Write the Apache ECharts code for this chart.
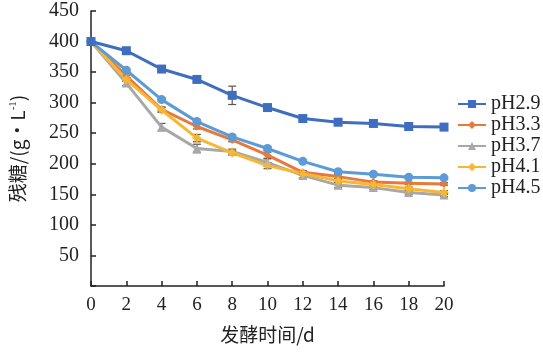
<!DOCTYPE html>
<html><head><meta charset="utf-8">
<script src="https://cdn.jsdelivr.net/npm/echarts@6/dist/echarts.min.js"></script>
<style>html,body{margin:0;padding:0;background:#fff}#c{width:543px;height:355px}</style>
</head><body><div id="c"></div>
<script>
const days = [0, 2, 4, 6, 8, 10, 12, 14, 16, 18, 20];
const seriesNames = ['pH2.9', 'pH3.3', 'pH3.7', 'pH4.1', 'pH4.5'];
const pH29 = [400, 385, 355, 338, 312, 292, 274, 268, 266, 261, 260];
const pH33 = [400, 344, 289, 261, 239, 214, 186, 179, 170, 168, 167];
const pH37 = [400, 332, 260, 225, 220, 202, 181, 165, 161, 153, 149];
const pH41 = [400, 338, 288, 242, 218, 197, 184, 172, 166, 159, 153];
const pH45 = [400, 353, 305, 269, 244, 225, 204, 187, 183, 178, 177];
const err29 = [0, 3, 4, 3, 15, 3, 2, 2, 2, 2, 2];
const err33 = [0, 3, 4, 4, 3, 5, 3, 3, 2, 2, 2];
const err37 = [0, 4, 6, 7, 4, 6, 4, 4, 3, 3, 3];
const err41 = [0, 3, 4, 6, 4, 5, 3, 3, 3, 3, 3];
const err45 = [0, 2, 3, 3, 3, 3, 2, 2, 2, 2, 2];
const yTicks = [0, 450, 50];
const xTicks = [0, 20, 2];

const values = [pH29, pH33, pH37, pH41, pH45];
const errs = [err29, err33, err37, err41, err45];
const colors = ['#3F6DC0', '#E8793A', '#A8A8A8', '#F7B733', '#5C9BD6'];
const symbols = ['rect', 'diamond', 'triangle',
  'path://M4,0L6,0L6,10L4,10Z M0,4L10,4L10,6L0,6Z M1.4,2.8L2.8,1.4L8.6,7.2L7.2,8.6Z M2.8,8.6L1.4,7.2L7.2,1.4L8.6,2.8Z',
  'circle'];
const sizes = [9, 8, 9, 9, 9];
const serif = '"Liberation Serif", "Times New Roman", serif';

const chart = echarts.init(document.getElementById('c'), null, {renderer: 'canvas'});
const series = [];
values.forEach((vals, i) => {
  series.push({
    name: seriesNames[i], type: 'line', data: days.map((d, k) => [d, vals[k]]),
    symbol: symbols[i], symbolSize: sizes[i], showAllSymbol: true,
    lineStyle: {width: 3, color: colors[i]}, itemStyle: {color: colors[i]},
    z: 3 + (i === 0 ? 2 : 0)
  });
});
const errData = [];
values.forEach((vals, i) => days.forEach((d, k) => { if (errs[i][k] > 0) errData.push([d, vals[k], errs[i][k]]); }));
series.push({
  type: 'custom', z: 2, silent: true, data: errData,
  renderItem: function (params, api) {
    const x = api.value(0), y = api.value(1), e = api.value(2);
    const top = api.coord([x, y + e]), bot = api.coord([x, y - e]);
    const w = 4;
    const st = {stroke: '#555', lineWidth: 1.2};
    return {type: 'group', children: [
      {type: 'line', shape: {x1: top[0], y1: top[1], x2: bot[0], y2: bot[1]}, style: st},
      {type: 'line', shape: {x1: top[0] - w, y1: top[1], x2: top[0] + w, y2: top[1]}, style: st},
      {type: 'line', shape: {x1: bot[0] - w, y1: bot[1], x2: bot[0] + w, y2: bot[1]}, style: st}
    ]};
  }
});

chart.setOption({
  animation: false,
  grid: {left: 90, right: 99, top: 11, bottom: 69, containLabel: false},
  legend: {
    orient: 'vertical', left: 452, top: 89, itemWidth: 28, itemHeight: 10, itemGap: 1,
    textStyle: {fontFamily: serif, fontSize: 20, color: '#222', lineHeight: 20},
    data: seriesNames
  },
  xAxis: {
    type: 'value', min: xTicks[0], max: xTicks[1], interval: xTicks[2],
    name: '发酵时间/d', nameLocation: 'middle', nameGap: 39,
    nameTextStyle: {fontFamily: '"Noto Sans CJK SC", ' + serif, fontSize: 19, color: '#222'},
    axisLine: {lineStyle: {color: '#222', width: 1.5}},
    axisTick: {inside: true, length: 5, lineStyle: {color: '#222', width: 1.5}},
    axisLabel: {fontFamily: serif, fontSize: 19, color: '#222', margin: 10},
    splitLine: {show: false}
  },
  yAxis: {
    type: 'value', min: yTicks[0], max: yTicks[1], interval: yTicks[2],
    name: '{a|残糖/(g·L}{s|-1}{a|)}', nameLocation: 'middle', nameGap: 64, nameRotate: 90,
    nameTextStyle: {rich: {
      a: {fontFamily: '"Noto Sans CJK SC", ' + serif, fontSize: 19, color: '#222'},
      s: {fontFamily: serif, fontSize: 11, color: '#222', verticalAlign: 'top', padding: [0, 0, 8, 0]}
    }},
    axisLine: {show: true, lineStyle: {color: '#222', width: 1.5}},
    axisTick: {show: true, inside: true, length: 5, lineStyle: {color: '#222', width: 1.5}},
    axisLabel: {fontFamily: serif, fontSize: 20, color: '#222', margin: 12,
      formatter: v => v === 0 ? '' : String(v)},
    splitLine: {show: false}
  },
  series: series
});
</script></body></html>
